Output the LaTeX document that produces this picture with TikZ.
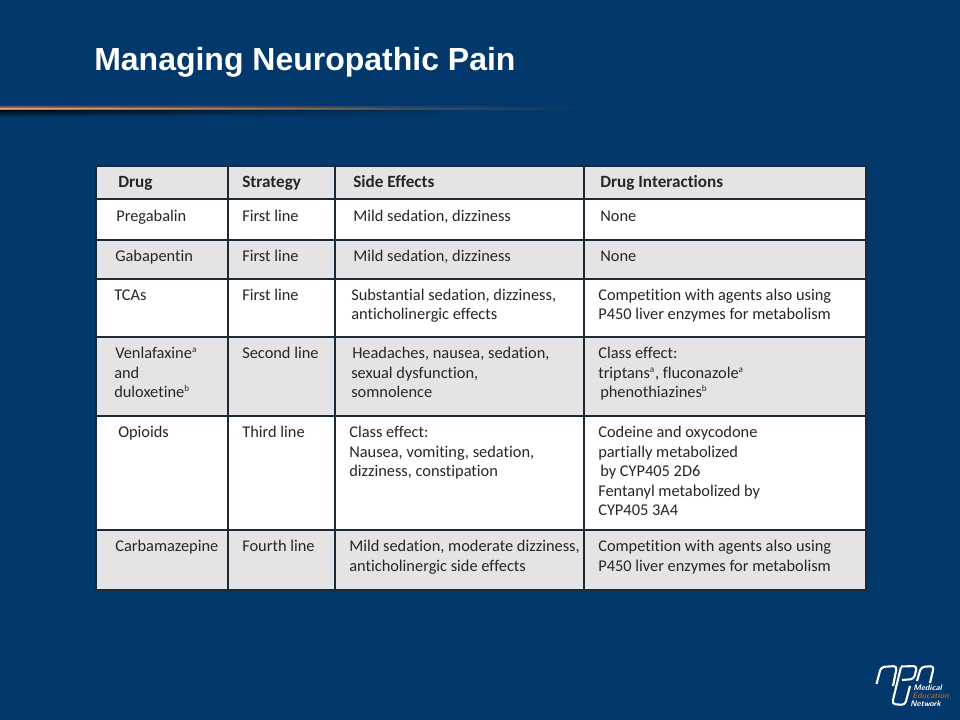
\documentclass[tikz,border=0pt]{standalone}
\usepackage{fontspec}
\usetikzlibrary{fadings}
\setmainfont[Ligatures=NoCommon]{Carlito}
\newfontfamily\titlefont{Liberation Sans}
\definecolor{slidebg}{HTML}{02386B}
\definecolor{rulecol}{HTML}{D47F38}
\definecolor{rulecore}{HTML}{E6A878}
\definecolor{gridcol}{HTML}{1C2A38}
\definecolor{bandcol}{HTML}{E4E4E4}
\definecolor{logoorange}{HTML}{A8602A}
\newcommand{\supmark}[1]{\textsuperscript{\fontsize{6.5}{7}\selectfont #1}}
\tikzset{
  cell/.style={anchor=base west,inner sep=0pt,align=left,text=black!85,font=\fontsize{11.65}{13.9}\selectfont},
  headcell/.style={cell,font=\fontsize{12.2}{13.9}\selectfont\bfseries},
  logotext/.style={anchor=base west,inner sep=0pt,font=\fontsize{5.7}{6}\selectfont\bfseries\itshape\sffamily},
  logoline/.style={white,line width=1.5pt,rounded corners=2.5pt,line join=round}
}
\begin{document}
\begin{tikzpicture}[x=0.025cm,y=-0.025cm]
      \useasboundingbox (0,0) rectangle (960,720);
      \fill [slidebg] (0,0) rectangle (960,720);

      % title and rule
      \node [anchor=base west,inner sep=0pt,text=white,font=\titlefont\bfseries\fontsize{22.75}{26}\selectfont] (title) at (94,71) {Managing Neuropathic Pain};
      \shade [top color=black!80!slidebg,bottom color=slidebg,path fading=east] (0,110.5) rectangle (460,117);
      \shade [top color=slidebg,bottom color=rulecol,path fading=east] (0,104.5) rectangle (590,108);
      \fill [rulecol,path fading=east] (0,108) rectangle (590,110.5);
      \fill [rulecore,path fading=east] (0,108) rectangle (400,109.5);

      % table
      \fill [white] (96,166) rectangle (866,590);
      \foreach \top/\bottom in {166/199, 240/279, 337/416, 530/590}
      \fill [bandcol] (96,\top) rectangle (866,\bottom);
      \foreach \y in {166, 199, 240, 279, 337, 416, 530, 590}
      \draw [gridcol,line width=1.1pt] (96,\y) -- (866,\y);
      \foreach \x in {96, 228, 335, 584, 866}
      \draw [gridcol,line width=1.1pt] (\x,166) -- (\x,590);

      % header row
      \node [headcell] (h1) at (118,188) {Drug};
      \node [headcell] (h2) at (242,188) {Strategy};
      \node [headcell] (h3) at (353,188) {Side Effects};
      \node [headcell] (h4) at (600,188) {Drug Interactions};

      \node [cell] (a1) at (116,222) {Pregabalin};
      \node [cell] (a2) at (242,222) {First line};
      \node [cell] (a3) at (353,222) {Mild sedation, dizziness};
      \node [cell] (a4) at (600,222) {None};

      \node [cell] (b1) at (115,262) {Gabapentin};
      \node [cell] (b2) at (242,262) {First line};
      \node [cell] (b3) at (353,262) {Mild sedation, dizziness};
      \node [cell] (b4) at (600,262) {None};

      \node [cell] (c1) at (114,301) {TCAs};
      \node [cell] (c2) at (242,301) {First line};
      \node [cell] (c3) at (351,301) {Substantial sedation, dizziness,};
      \node [cell] (c3b) at (351,320) {anticholinergic effects};
      \node [cell] (c4) at (598,301) {Competition with agents also using};
      \node [cell] (c4b) at (598,320) {P450 liver enzymes for metabolism};

      \node [cell] (d1) at (115,359) {Venlafaxine\supmark{a}};
      \node [cell] (d1b) at (114,379) {and};
      \node [cell] (d1c) at (114,398) {duloxetine\supmark{b}};
      \node [cell] (d2) at (242,359) {Second line};
      \node [cell] (d3) at (352,359) {Headaches, nausea, sedation,};
      \node [cell] (d3b) at (351,379) {sexual dysfunction,};
      \node [cell] (d3c) at (351,398) {somnolence};
      \node [cell] (d4) at (598,359) {Class effect:};
      \node [cell] (d4b) at (598,379) {triptans\supmark{a}, fluconazole\supmark{a}};
      \node [cell] (d4c) at (600,398) {phenothiazines\supmark{b}};

      \node [cell] (e1) at (118,438) {Opioids};
      \node [cell] (e2) at (242,438) {Third line};
      \node [cell] (e3) at (349,438) {Class effect:};
      \node [cell] (e3b) at (349,458) {Nausea, vomiting, sedation,};
      \node [cell] (e3c) at (349,477) {dizziness, constipation};
      \node [cell] (e4) at (598,438) {Codeine and oxycodone};
      \node [cell] (e4b) at (598,458) {partially metabolized};
      \node [cell] (e4c) at (600,477) {by CYP405 2D6};
      \node [cell] (e4d) at (598,497) {Fentanyl metabolized by};
      \node [cell] (e4e) at (598,516) {CYP405 3A4};

      \node [cell] (f1) at (115,552) {Carbamazepine};
      \node [cell] (f2) at (242,552) {Fourth line};
      \node [cell] (f3) at (349,552) {Mild sedation, moderate dizziness,};
      \node [cell] (f3b) at (349,571) {anticholinergic side effects};
      \node [cell] (f4) at (598,552) {Competition with agents also using};
      \node [cell] (f4b) at (598,571) {P450 liver enzymes for metabolism};

      % logo
      \draw [logoline] (876.5,684) -- (881,667) -- (897,666) -- (893,686);
      \draw [logoline] (901,667) -- (892,704) -- (905,705) -- (910,686);
      \draw [logoline] (901,666.5) -- (917,666) -- (914,679) -- (902,680);
      \draw [logoline] (917,681) -- (921,667) -- (934,666) -- (930,683);
      \node [logotext,text=white] (logo1) at (913,690) {Medical};
      \node [logotext,text=logoorange] (logo2) at (912,698) {Education};
      \node [logotext,text=white] (logo3) at (910,706) {Network};
    \end{tikzpicture}
\end{document}
